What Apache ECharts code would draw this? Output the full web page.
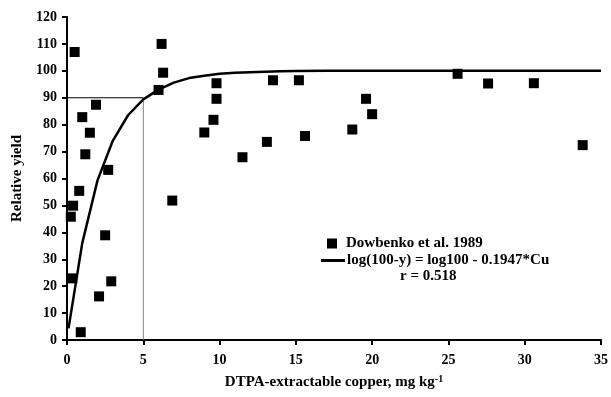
<!DOCTYPE html>
<html><head><meta charset="utf-8">
<script src="https://cdn.jsdelivr.net/npm/echarts@6/dist/echarts.min.js"></script>
<style>html,body{margin:0;padding:0;background:#fff}#c{width:611px;height:397px}</style>
</head><body><div id="c"></div>
<script>
// Observed data (Cu mg/kg, relative yield)
const obsCu = [0.5, 6.2, 6.3, 6.0, 1.9, 1.0, 1.5, 1.2, 2.7, 0.8, 9.8, 9.8, 9.6, 9.0, 11.5, 13.1, 13.5, 15.2, 15.6,
  0.4, 0.25, 6.9, 2.5, 0.35, 2.9, 2.1, 0.9, 25.6, 27.6, 30.6, 19.6, 20.0, 18.7, 33.8];
const obsYield = [107, 110, 99.3, 92.9, 87.4, 82.8, 77, 69, 63.2, 55.4, 95.4, 89.6, 81.8, 77.1, 67.9, 73.6, 96.5, 96.5, 75.8,
  49.9, 45.8, 51.8, 38.9, 22.9, 21.8, 16.2, 2.9, 98.9, 95.3, 95.4, 89.6, 83.9, 78.2, 72.4];
// Fitted curve
const fitCu = [0.1, 1, 2, 3, 4, 5, 6, 7, 8, 9, 10, 11, 12, 13, 14, 15, 17, 20, 25, 30, 35];
const fitYield = [4.3, 36, 59.3, 74, 83.5, 89.4, 93, 95.6, 97.3, 98.2, 98.9, 99.3, 99.5, 99.7, 99.8, 99.9, 100, 100, 100, 100, 100];
// Reference lines at the 90% yield level
const refHCu = [0, 5], refHYield = [90, 90];
const refVCu = [5, 5], refVYield = [0, 90];
const xTicks = {min: 0, max: 35, interval: 5};
const yTicks = {min: 0, max: 120, interval: 10};
const seriesNames = ['Dowbenko et al. 1989', 'log(100-y) = log100 - 0.1947*Cu'];
const rText = 'r = 0.518';

const zip = (a, b) => a.map((v, i) => [v, b[i]]);
const font = 'Liberation Serif';
const chart = echarts.init(document.getElementById('c'), null, {renderer: 'canvas'});
chart.setOption({
  animation: false,
  backgroundColor: '#fff',
  grid: {left: 67, right: 5, top: 17, bottom: 57},
  xAxis: {
    type: 'value', min: xTicks.min, max: xTicks.max, interval: xTicks.interval,
    name: 'DTPA-extractable copper, mg kg{sup|-1}', nameLocation: 'middle', nameGap: 34,
    nameTextStyle: {fontFamily: font, fontWeight: 700, fontSize: 15, color: '#000',
      rich: {sup: {fontFamily: font, fontWeight: 700, fontSize: 10, verticalAlign: 'top', padding: [0,0,7,0], color: '#000'}}},
    axisLine: {lineStyle: {color: '#000', width: 2}},
    axisTick: {show: true, inside: false, length: 5, lineStyle: {color: '#000', width: 2}},
    axisLabel: {fontFamily: font, fontWeight: 700, fontSize: 14, color: '#000', margin: 13},
    splitLine: {show: false}
  },
  yAxis: {
    type: 'value', min: yTicks.min, max: yTicks.max, interval: yTicks.interval,
    name: 'Relative yield', nameLocation: 'middle', nameGap: 35, nameRotate: 90,
    nameTextStyle: {fontFamily: font, fontWeight: 700, fontSize: 15, color: '#000'},
    axisLine: {show: true, lineStyle: {color: '#000', width: 2}},
    axisTick: {show: true, inside: false, length: 5, lineStyle: {color: '#000', width: 2}},
    axisLabel: {fontFamily: font, fontWeight: 700, fontSize: 14, color: '#000', margin: 10},
    splitLine: {show: false}
  },
  legend: [
    {data: [{name: seriesNames[0], icon: 'rect'}], orient: 'vertical', left: 322, top: 231,
     itemWidth: 10, itemHeight: 10, itemGap: 4,
     textStyle: {fontFamily: font, fontWeight: 700, fontSize: 15, color: '#000', padding: [0,0,0,4]}},
    {data: [{name: seriesNames[1], icon: 'path://M0,0 L24,0 L24,3 L0,3 Z'}], orient: 'vertical', left: 316, top: 248,
     itemWidth: 24, itemHeight: 3, itemGap: 4,
     textStyle: {fontFamily: font, fontWeight: 700, fontSize: 15, color: '#000', padding: [0,0,0,-3]}}
  ],
  graphic: [{type: 'text', left: 400, top: 269,
    style: {text: rText, font: 'bold 15px "Liberation Serif"', fill: '#000'}}],
  series: [
    {name: 'ref-h', type: 'line', data: zip(refHCu, refHYield), symbol: 'none',
     lineStyle: {color: '#000', width: 1}, silent: true, z: 1},
    {name: 'ref-v', type: 'line', data: zip(refVCu, refVYield), symbol: 'none',
     lineStyle: {color: '#808080', width: 1}, silent: true, z: 1},
    {name: seriesNames[1], type: 'line', data: zip(fitCu, fitYield), symbol: 'none', smooth: false,
     lineStyle: {color: '#000', width: 2.5}, itemStyle: {color: '#000'}, z: 2},
    {name: seriesNames[0], type: 'scatter', data: zip(obsCu, obsYield), symbol: 'rect', symbolSize: 10,
     itemStyle: {color: '#000', opacity: 1}, z: 3}
  ]
});
</script></body></html>
